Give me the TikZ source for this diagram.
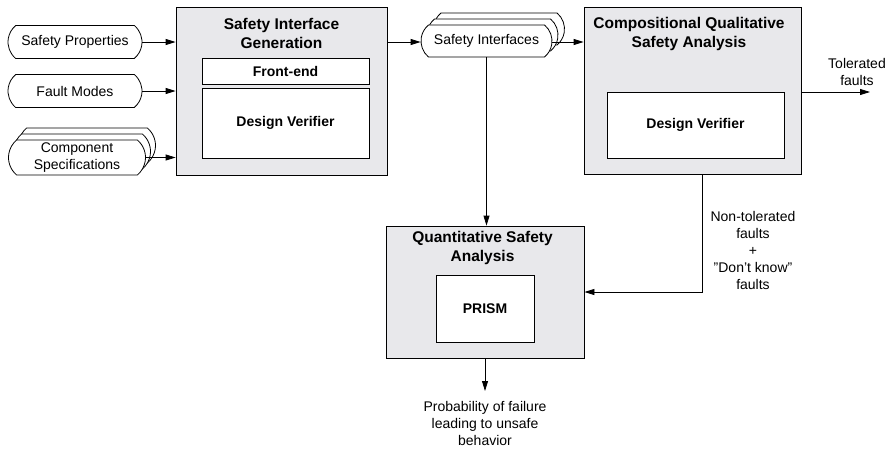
\documentclass[tikz,border=0pt]{standalone}
\usepackage{fontspec}
\setmainfont{Liberation Sans}
\usetikzlibrary{shapes.misc,arrows.meta,calc}
\definecolor{boxgray}{RGB}{232,232,235}
\begin{document}
\begin{tikzpicture}[x=1pt,y=-1pt,
  lw/.style={line width=0.8pt},
  arr/.style={lw,-{Triangle[length=10pt,width=6pt]}},
  term/.style={draw,lw,fill=white,rounded rectangle,rounded rectangle arc length=100,
     inner sep=0pt,align=center,font=\fontsize{14}{17}\selectfont},
  outerbox/.style={draw,lw,fill=boxgray,inner sep=0pt},
  innerbox/.style={draw,lw,fill=white,inner sep=0pt,font=\fontsize{14}{17}\selectfont\bfseries},
  titletext/.style={align=center,inner sep=0pt,font=\fontsize{15.5}{19}\selectfont\bfseries},
  lbl/.style={align=center,inner sep=0pt,font=\fontsize{14}{17}\selectfont}]
\useasboundingbox (0,0) rectangle (891,455);

% inputs
\node[term,minimum width=134,minimum height=33] (sp) at (75,42) {Safety Properties};
\node[term,minimum width=134,minimum height=33] (fm) at (75,91) {Fault Modes};
\node[term,minimum width=137,minimum height=35] (cs3) at (87,145.5) {};
\node[term,minimum width=137,minimum height=35] (cs2) at (82,151.5) {};
\node[term,minimum width=137,minimum height=35] (cs) at (77,157.5) {Component\\Specifications};

% safety interface generation
\node[outerbox,minimum width=211,minimum height=168] (sig) at (281.5,91) {};
\node[titletext] (sigt) at (281.5,33.5) {Safety Interface\\Generation};
\node[innerbox,minimum width=167,minimum height=26] (fe) at (285.5,71) {Front-end};
\node[innerbox,minimum width=167,minimum height=70] (dv1) at (285.5,123) {Design Verifier};

% safety interfaces
\node[term,minimum width=131,minimum height=32] (si3) at (499,29) {};
\node[term,minimum width=131,minimum height=32] (si2) at (492.5,35) {};
\node[term,minimum width=131,minimum height=32] (si) at (486.5,41) {Safety Interfaces};

% compositional qualitative safety analysis
\node[outerbox,minimum width=217,minimum height=167] (cqsa) at (692.5,90.5) {};
\node[titletext] (cqsat) at (689,33.5) {Compositional Qualitative\\Safety Analysis};
\node[innerbox,minimum width=177,minimum height=66] (dv2) at (695.5,125) {Design Verifier};

% quantitative safety analysis
\node[outerbox,minimum width=198,minimum height=132] (qsa) at (485,292) {};
\node[titletext] (qsat) at (482.5,247.5) {Quantitative Safety\\Analysis};
\node[innerbox,minimum width=98,minimum height=67] (prism) at (485,308.5) {PRISM};

% labels
\node[lbl] (tol) at (857,71.5) {Tolerated\\faults};
\node[lbl] (ntol) at (753,250) {Non-tolerated\\faults\\+\\"Don’t know"\\faults};
\node[lbl] (prob) at (485,423.5) {Probability of failure\\leading to unsafe\\behavior};

\coordinate (tfend) at (870,92);
\coordinate (probend) at (485,391);
\coordinate (bend) at (702,292);

% connectors
\draw[arr] (sp.east) -- (sp -| sig.west);
\draw[arr] (fm.east) -- (fm -| sig.west);
\draw[arr] (cs.east) -- (cs -| sig.west);
\draw[arr] (sig.east |- 0,42) -- (si.west |- 0,42);
\draw[arr] (si.east |- 0,42) -- (cqsa.west |- 0,42);
\draw[arr] (cqsa.east |- tfend) -- (tfend);
\draw[arr] (si.south) -- (si.south |- qsa.north);
\draw[arr] (bend |- cqsa.south) -- (bend) -- (qsa.east);
\draw[arr] (qsa.south) -- (probend);
\end{tikzpicture}
\end{document}
